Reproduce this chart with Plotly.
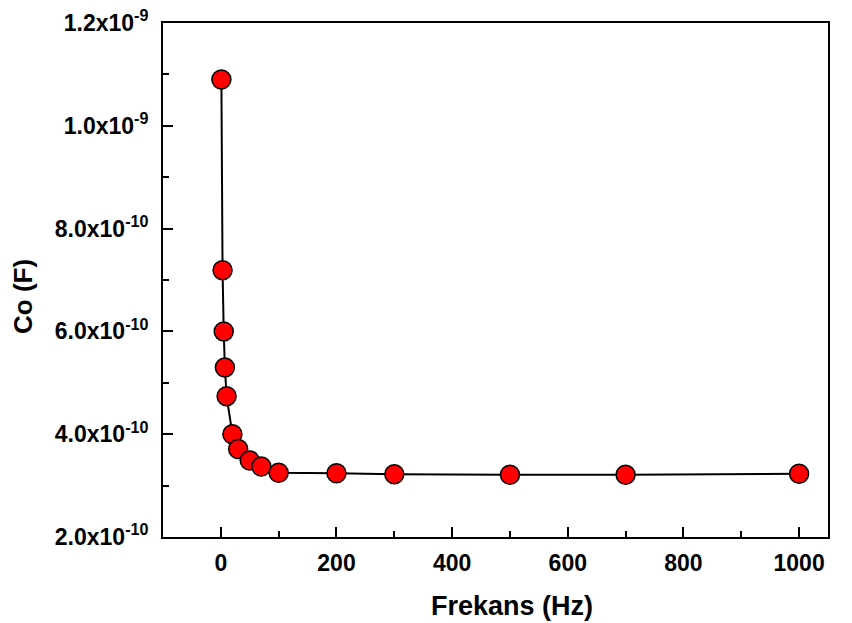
import plotly.graph_objects as go

freq = [1, 3, 5, 7, 10, 20, 30, 50, 70, 100, 200, 300, 500, 700, 1000]
co = [1.09e-9, 7.19e-10, 6.0e-10, 5.3e-10, 4.74e-10, 4.0e-10, 3.71e-10, 3.49e-10,
      3.37e-10, 3.25e-10, 3.24e-10, 3.22e-10, 3.21e-10, 3.21e-10, 3.23e-10]

y_tickvals = [2e-10, 4e-10, 6e-10, 8e-10, 1.0e-9, 1.2e-9]
y_ticktext = ["2.0x10<sup>-10</sup>", "4.0x10<sup>-10</sup>", "6.0x10<sup>-10</sup>",
              "8.0x10<sup>-10</sup>", "1.0x10<sup>-9</sup>", "1.2x10<sup>-9</sup>"]
x_tickvals = [0, 200, 400, 600, 800, 1000]

fig = go.Figure()
fig.add_trace(go.Scatter(
    x=freq, y=co, mode="lines+markers",
    line=dict(color="black", width=2),
    marker=dict(color="#ff0000", size=19, line=dict(color="black", width=1.5)),
    showlegend=False,
))

font = "Liberation Sans, Arial, sans-serif"
L, R, T, B = 163, 24, 23, 86
W, H = 852, 623
pw, ph = W - L - R, H - T - B

fig.update_layout(
    width=W, height=H,
    margin=dict(l=L, r=R, t=T, b=B, autoexpand=False),
    paper_bgcolor="white", plot_bgcolor="white",
    font=dict(family=font, color="black"),
    xaxis=dict(
        range=[-100, 1050], tickvals=x_tickvals, automargin=False,
        ticks="inside", ticklen=10, tickwidth=1.5, tickcolor="black",
        minor=dict(ticks="inside", ticklen=6, tickwidth=1.5, tickcolor="black", dtick=100, tick0=0),
        showline=True, linecolor="black", linewidth=2, mirror=True,
        showgrid=False, zeroline=False,
        tickfont=dict(size=23, family=font, weight="bold"),
        ticklabelstandoff=4,
    ),
    yaxis=dict(
        range=[2e-10, 1.2e-9], tickvals=y_tickvals, ticktext=y_ticktext, automargin=False,
        ticks="inside", ticklen=10, tickwidth=1.5, tickcolor="black",
        minor=dict(ticks="inside", ticklen=6, tickwidth=1.5, tickcolor="black", dtick=1e-10, tick0=0),
        showline=True, linecolor="black", linewidth=2, mirror=True,
        showgrid=False, zeroline=False,
        tickfont=dict(size=23, family=font, weight="bold"),
        ticklabelstandoff=8,
    ),
    annotations=[
        dict(text="<b>Frekans (Hz)</b>", xref="paper", yref="paper",
             x=(512 - L) / pw, y=-(606 - (H - B)) / ph, xanchor="center", yanchor="middle",
             showarrow=False, font=dict(size=27, family=font, color="black")),
        dict(text="<b>Co (F)</b>", xref="paper", yref="paper", textangle=-90,
             x=-(L - 23) / pw, y=((H - B) - 297) / ph, xanchor="center", yanchor="middle",
             showarrow=False, font=dict(size=26, family=font, color="black")),
    ],
)

fig.write_html("out.html")
